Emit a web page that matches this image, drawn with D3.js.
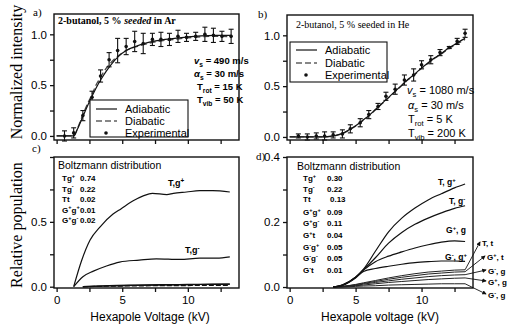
<!DOCTYPE html>
<html><head><meta charset="utf-8">
<script src="https://cdn.jsdelivr.net/npm/d3@7"></script>
<style>body{margin:0;background:#fff}svg{display:block}</style>
</head><body>
<svg id="chart" width="509" height="326"></svg>
<script>
// ---------- data ----------
// panel a (Ar)
const kvExpA = [0.6,1.3,2.0,2.7,3.35,4.0,4.65,5.3,5.95,6.6,7.3,7.95,8.6,9.25,9.9,10.6,11.3,11.95,12.6,13.3];
const expA   = [0.0,0.03,0.2,0.38,0.59,0.75,0.84,0.88,0.93,0.91,0.95,0.95,0.95,0.98,0.97,0.98,1.0,0.99,0.98,0.98];
const errA   = [0.05,0.05,0.05,0.06,0.06,0.07,0.12,0.08,0.1,0.1,0.06,0.07,0.06,0.06,0.04,0.04,0.07,0.07,0.05,0.07];
const kvCurveA = [0,1.3,1.6,2.0,2.4,2.7,3.0,3.4,3.8,4.2,4.7,5.3,6.0,7.0,8.0,9.0,10.0,11.0,12.0,13.3];
const adiaA  = [0,0,0.07,0.19,0.31,0.39,0.47,0.56,0.64,0.71,0.78,0.84,0.88,0.92,0.945,0.96,0.975,0.985,0.99,0.99];
const diaA   = [0,0,0.08,0.21,0.33,0.41,0.5,0.59,0.67,0.73,0.79,0.84,0.875,0.91,0.935,0.95,0.965,0.975,0.98,0.975];
// panel b (He)
const kvExpB = [0.66,1.34,2.02,2.65,3.3,4.0,4.6,5.35,6.0,6.7,7.3,8.0,8.7,9.4,10.0,10.7,11.4,12.1,12.7,13.3];
const expB   = [0.01,0.0,0.01,0.01,0.02,0.03,0.08,0.14,0.22,0.3,0.4,0.47,0.56,0.61,0.71,0.76,0.83,0.88,0.94,1.02];
const errB   = [0.02,0.03,0.03,0.04,0.03,0.04,0.04,0.04,0.04,0.03,0.04,0.05,0.05,0.06,0.04,0.04,0.03,0.01,0.03,0.04];
const kvCurveB = [0,2.5,3.0,3.5,4.0,4.5,5.0,5.5,6.0,6.5,7.0,7.5,8.0,8.5,9.0,9.5,10.0,10.5,11.0,11.5,12.0,12.5,13.3];
const adiaB  = [0,0,0.005,0.015,0.035,0.07,0.11,0.16,0.21,0.27,0.33,0.39,0.45,0.51,0.57,0.62,0.68,0.73,0.78,0.82,0.87,0.91,0.97];
const diaB   = [0,0,0.004,0.013,0.032,0.066,0.105,0.155,0.205,0.265,0.325,0.385,0.445,0.505,0.565,0.615,0.675,0.725,0.775,0.815,0.865,0.9,0.96];
// panel c (Boltzmann, Ar)
const kvTgpC = [1.3,1.9,2.55,3.3,4.3,4.9,5.8,6.6,7.3,8.4,8.9,9.9,10.9,11.9,13.2];
const TgpC   = [0,0.2,0.36,0.46,0.56,0.6,0.66,0.70,0.72,0.71,0.72,0.73,0.74,0.74,0.73];
const kvTgmC = [1.3,2.0,2.8,3.8,4.8,6.3,7.6,9.4,10.9,12.2,13.2];
const TgmC   = [0,0.077,0.12,0.16,0.19,0.205,0.215,0.21,0.22,0.22,0.23];
const kvSmallC = [2.0,4,6,8,10,12,13.2];
const TtC    = [0,0.008,0.012,0.015,0.017,0.019,0.02];
const GpGpC  = [0,0.004,0.006,0.008,0.009,0.01,0.01];
const GpGmC  = [0,0.006,0.01,0.013,0.016,0.018,0.02];
const legendNamesC  = ["Tg^{+}","Tg^{-}","Tt","G^{+}g^{+}","G^{+}g^{-}"];
const legendValuesC = ["0.74","0.22","0.02","0.01","0.02"];
// panel d (Boltzmann, He)
const kvD = [3.3,4,5,5.6,6.5,7.5,8.5,9.5,10.5,11.5,12.5,13.3];
const TgpD  = [0,0.006,0.03,0.055,0.11,0.17,0.212,0.243,0.268,0.287,0.305,0.317];
const TgmD  = [0,0.006,0.03,0.053,0.09,0.135,0.168,0.193,0.212,0.228,0.242,0.25];
const GpgD  = [0,0.006,0.03,0.052,0.078,0.095,0.108,0.12,0.13,0.138,0.142,0.14];
const GmgpD = [0,0.005,0.028,0.048,0.057,0.064,0.07,0.075,0.078,0.08,0.08,0.079];
const TtD   = [0,0.002,0.008,0.013,0.02,0.028,0.035,0.041,0.046,0.049,0.052,0.053];
const GptD  = [0,0.002,0.007,0.011,0.017,0.024,0.03,0.035,0.04,0.043,0.046,0.047];
const GmgD  = [0,0.001,0.005,0.009,0.014,0.019,0.024,0.028,0.032,0.035,0.037,0.038];
const Gpg2D = [0,0.001,0.004,0.006,0.01,0.014,0.017,0.02,0.023,0.025,0.027,0.028];
const Gmg2D = [0,0,0.002,0.003,0.004,0.006,0.007,0.008,0.009,0.01,0.01,0.01];
const legendNamesD  = ["Tg^{+}","Tg^{-}","Tt","G^{+}g^{+}","G^{+}g^{-}","G^{+}t","G^{-}g^{+}","G^{-}g^{-}","G^{-}t"];
const legendValuesD = ["0.30","0.22","0.13","0.09","0.11","0.04","0.05","0.05","0.01"];
// ticks
const xTicks = [0,2.5,5,7.5,10,12.5];
const xTickLabels = [0,5,10];
const yTicksAB = [0,0.25,0.5,0.75,1.0];
const yLabelsAB = [0,0.5,1.0];
const yTicksC = [0,0.25,0.5,0.75,1.0];
const yLabelsC = [0,0.5];
const yTicksD = [0,0.1,0.2,0.3,0.4];
const yLabelsD = [0,0.2,0.4];

// ---------- setup ----------
const svg = d3.select("#chart");
const SANS = "Liberation Sans, Arial, sans-serif";
const SERIF = "Liberation Serif, Times New Roman, serif";
const INK = "#111";

const xL = d3.scaleLinear().domain([-0.2,13.9]).range([54,239]);
const xR = d3.scaleLinear().domain([-0.2,13.9]).range([287,473]);
const yA = d3.scaleLinear().domain([-0.04,1.2]).range([140,14]);
const yB = d3.scaleLinear().domain([-0.03,1.2]).range([140,15]);
const yC = d3.scaleLinear().domain([-0.01,1.0]).range([288,157]);
const yD = d3.scaleLinear().domain([-0.003,0.4]).range([288,157]);

function rich(parent, x, y, str, o) {
  const t = parent.append("text").attr("x",x).attr("y",y)
    .attr("font-size",o.size).attr("font-family",o.family||SANS)
    .attr("font-weight",o.weight||"normal").attr("text-anchor",o.anchor||"start")
    .attr("fill","#000");
  let off = 0;
  str.split(/(\^\{[^}]*\}|_\{[^}]*\}|\*\{[^}]*\})/).forEach(tok => {
    if (!tok) return;
    let target = 0, txt = tok, fs = o.size, style = o.style||"normal";
    if (tok.startsWith("^{")) { target = -0.38*o.size; txt = tok.slice(2,-1); fs = o.size*0.7; }
    else if (tok.startsWith("_{")) { target = 0.28*o.size; txt = tok.slice(2,-1); fs = o.size*0.7; }
    else if (tok.startsWith("*{")) { txt = tok.slice(2,-1); style = "italic"; }
    t.append("tspan").attr("dy", target-off).attr("font-size",fs).attr("font-style",style).text(txt);
    off = target;
  });
  return t;
}

function frame(x, y) {
  const [x0,x1] = x.range(), [y0,y1] = y.range();
  svg.append("rect").attr("x",x0).attr("y",y1).attr("width",x1-x0).attr("height",y0-y1)
    .attr("fill","none").attr("stroke",INK).attr("stroke-width",1.4);
}
function axes(x, y, yt, yl, showX) {
  const gy = svg.append("g").attr("transform",`translate(${x.range()[0]},0)`)
    .call(d3.axisLeft(y).tickValues(yt).tickSize(4).tickPadding(3)
      .tickFormat(d => yl.includes(d) ? d3.format(".1f")(d) : ""));
  const gx = svg.append("g").attr("transform",`translate(0,${y.range()[0]})`)
    .call(d3.axisBottom(x).tickValues(xTicks).tickSize(4).tickPadding(4)
      .tickFormat(d => showX && xTickLabels.includes(d) ? d : ""));
  [gx,gy].forEach(g => {
    g.select(".domain").remove();
    g.selectAll("line").attr("stroke",INK).attr("stroke-width",1.3);
    g.selectAll("text").attr("font-family",SANS).attr("font-size",11.5).attr("fill","#000");
  });
}
function curve(x, y, xs, ys, o={}) {
  const line = d3.line().x(d=>x(d[0])).y(d=>y(d[1])).curve(d3.curveMonotoneX);
  svg.append("path").attr("d", line(xs.map((v,i)=>[v,ys[i]])))
    .attr("fill","none").attr("stroke",o.color||INK).attr("stroke-width",o.w||1.2)
    .attr("stroke-dasharray",o.dash||null);
}
function points(x, y, xs, ys, es) {
  const g = svg.append("g").attr("stroke",INK).attr("stroke-width",1.1);
  xs.forEach((v,i) => {
    const cx = x(v), top = y(ys[i]+es[i]), bot = y(ys[i]-es[i]);
    g.append("line").attr("x1",cx).attr("x2",cx).attr("y1",top).attr("y2",bot);
    g.append("line").attr("x1",cx-2.5).attr("x2",cx+2.5).attr("y1",top).attr("y2",top);
    g.append("line").attr("x1",cx-2.5).attr("x2",cx+2.5).attr("y1",bot).attr("y2",bot);
    svg.append("circle").attr("cx",cx).attr("cy",y(ys[i])).attr("r",1.8).attr("fill",INK);
  });
}
function legend(x0, y0, w, h, rows) {
  svg.append("rect").attr("x",x0).attr("y",y0).attr("width",w).attr("height",h)
    .attr("fill","#fff").attr("stroke",INK).attr("stroke-width",1.1);
  const labels = ["Adiabatic","Diabatic","Experimental"];
  labels.forEach((lab,i) => {
    const yy = rows[i];
    if (i===0) svg.append("line").attr("x1",x0+6).attr("x2",x0+27).attr("y1",yy).attr("y2",yy).attr("stroke",INK).attr("stroke-width",1.2);
    if (i===1) svg.append("line").attr("x1",x0+6).attr("x2",x0+27).attr("y1",yy).attr("y2",yy).attr("stroke",INK).attr("stroke-width",1.2).attr("stroke-dasharray","6,3");
    if (i===2) svg.append("circle").attr("cx",x0+16).attr("cy",yy).attr("r",1.8).attr("fill",INK);
    svg.append("text").attr("x",x0+35).attr("y",yy+4).attr("font-family",SANS).attr("font-size",11).text(lab);
  });
}

// ---------- panel a ----------
frame(xL, yA); axes(xL, yA, yTicksAB, yLabelsAB, false);
curve(xL, yA, kvCurveA, diaA, {dash:"6,3", color:"#444"});
curve(xL, yA, kvCurveA, adiaA);
points(xL, yA, kvExpA, expA, errA);
rich(svg, 58, 24, "2-butanol, 5 %  *{seeded} in Ar", {size:10, family:SERIF, weight:"bold"});
rich(svg, 194, 64, "*{v}_{s} = 490 m/s", {size:9.5, weight:"bold"});
rich(svg, 194, 77, "*{α}_{s} = 30 m/s", {size:9.5, weight:"bold"});
rich(svg, 197, 90, "T_{rot} = 15 K", {size:9.5, weight:"bold"});
rich(svg, 197, 103, "T_{vib} = 50 K", {size:9.5, weight:"bold"});
legend(90, 100, 98, 37, [109,121,133]);

// ---------- panel b ----------
frame(xR, yB); axes(xR, yB, yTicksAB, yLabelsAB, false);
curve(xR, yB, kvCurveB, diaB, {dash:"6,3", color:"#444"});
curve(xR, yB, kvCurveB, adiaB);
points(xR, yB, kvExpB, expB, errB);
rich(svg, 296, 28, "2-butanol, 5 %  seeded in He", {size:10, family:SERIF});
legend(290, 42, 97, 40, [50,63,75]);
rich(svg, 407, 94, "*{v}_{s} = 1080 m/s", {size:11});
rich(svg, 408, 109, "*{α}_{s} = 30 m/s", {size:11});
rich(svg, 408, 123, "T_{rot} = 5 K", {size:11});
rich(svg, 408, 137, "T_{vib} = 200 K", {size:11});

// ---------- panel c ----------
frame(xL, yC); axes(xL, yC, yTicksC, yLabelsC, true);
curve(xL, yC, kvSmallC, TtC, {w:1.4});
curve(xL, yC, kvSmallC, GpGpC, {w:1.2, dash:"5,2"});
curve(xL, yC, kvSmallC, GpGmC, {w:1.2});
curve(xL, yC, kvTgpC, TgpC);
curve(xL, yC, kvTgmC, TgmC);
rich(svg, 58, 169, "Boltzmann distribution", {size:10.5});
legendNamesC.forEach((n,i) => {
  rich(svg, 62, 181 + i*10.5, n, {size:8, weight:"bold"});
  rich(svg, 80, 181 + i*10.5, legendValuesC[i], {size:8, weight:"bold"});
});
rich(svg, 168, 186, "T,g^{+}", {size:9, weight:"bold"});
rich(svg, 185, 253, "T,g^{-}", {size:9, weight:"bold"});

// ---------- panel d ----------
frame(xR, yD); axes(xR, yD, yTicksD, yLabelsD, true);
[TtD, GptD, GmgD, Gpg2D, Gmg2D].forEach(s => curve(xR, yD, kvD, s, {w:1.0, color:"#222"}));
[TgpD, TgmD, GpgD, GmgpD].forEach(s => curve(xR, yD, kvD, s));
rich(svg, 297, 170, "Boltzmann distribution", {size:10.5});
legendNamesD.forEach((n,i) => {
  const yy = [181,192,202,215,226,238,250,261,273][i];
  rich(svg, 303, yy, n, {size:8, weight:"bold"});
  rich(svg, n==="Tt" ? 330 : 327, yy, legendValuesD[i], {size:8, weight:"bold"});
});
rich(svg, 438, 185, "T, g^{+}", {size:8.5, weight:"bold"});
rich(svg, 449, 204, "T, g^{-}", {size:8.5, weight:"bold"});
rich(svg, 446, 233, "G^{+}, g", {size:8.5, weight:"bold"});
rich(svg, 445, 260, "G^{-}, g^{+}", {size:8.5, weight:"bold"});
// arrows from curve ends to labels outside
svg.append("defs").append("marker").attr("id","ah").attr("viewBox","0 0 6 6").attr("refX",5).attr("refY",3)
  .attr("markerWidth",5).attr("markerHeight",5).attr("orient","auto")
  .append("path").attr("d","M0,0L6,3L0,6z").attr("fill",INK);
const outLabels = [
  {s:TtD,  txt:"T, t",      lx:482, ly:246},
  {s:GptD, txt:"G^{+}, t",  lx:487, ly:260},
  {s:GmgD, txt:"G^{-}, g",  lx:488, ly:274},
  {s:Gpg2D,txt:"G^{+}, g",  lx:488, ly:285},
  {s:Gmg2D,txt:"G^{-}, g",  lx:488, ly:298}
];
outLabels.forEach(o => {
  const x0 = xR(kvD[kvD.length-1]), y0 = yD(o.s[o.s.length-1]);
  svg.append("line").attr("x1",x0).attr("y1",y0).attr("x2",o.lx-2).attr("y2",o.ly-4)
    .attr("stroke",INK).attr("stroke-width",0.9).attr("marker-end","url(#ah)");
  rich(svg, o.lx, o.ly, o.txt, {size:8, weight:"bold"});
});

// ---------- titles ----------
svg.append("text").attr("transform","translate(22,72) rotate(-90)").attr("text-anchor","middle")
  .attr("font-family",SERIF).attr("font-size",16).text("Normalized intensity");
svg.append("text").attr("transform","translate(22,225) rotate(-90)").attr("text-anchor","middle")
  .attr("font-family",SERIF).attr("font-size",16).text("Relative population");
svg.append("text").attr("x",150).attr("y",321).attr("text-anchor","middle")
  .attr("font-family",SANS).attr("font-size",12).text("Hexapole Voltage (kV)");
svg.append("text").attr("x",380).attr("y",321).attr("text-anchor","middle")
  .attr("font-family",SANS).attr("font-size",12).text("Hexapole voltage (kV)");
[["a)",33,16],["b)",258,18],["c)",32,152],["d)",256,160]].forEach(([t,x,y]) =>
  svg.append("text").attr("x",x).attr("y",y).attr("font-family",SERIF).attr("font-size",11).text(t));
</script>
</body></html>
